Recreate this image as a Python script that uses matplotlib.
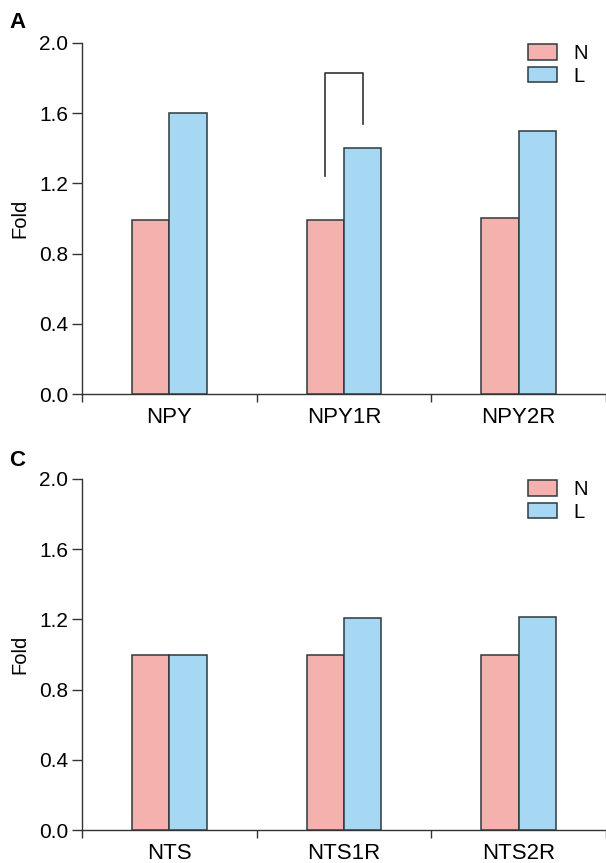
import matplotlib
matplotlib.use("Agg")
import matplotlib.pyplot as plt
import numpy as np
from matplotlib.patches import Patch

plt.rcParams['font.family'] = ['Liberation Sans', 'DejaVu Sans']

# Data
cats_a = ["NPY", "NPY1R", "NPY2R"]
n_a = [0.99, 0.99, 1.00]
l_a = [1.60, 1.40, 1.50]

cats_c = ["NTS", "NTS1R", "NTS2R"]
n_c = [1.00, 1.00, 1.00]
l_c = [1.00, 1.21, 1.215]

series_names = ["N", "L"]
colors = ["#F4B1AE", "#A6D7F3"]
yticks = [0.0, 0.4, 0.8, 1.2, 1.6, 2.0]

# bracket on NPY1R (data coords)
bracket_top = 1.83
bracket_left_bottom = 1.24
bracket_right_bottom = 1.54

fig = plt.figure(figsize=(6.06, 8.63), dpi=100)
left = 82 / 606
ax_a = fig.add_axes([left, 1 - 394 / 863, 1.0 - left, 351 / 863])
ax_c = fig.add_axes([left, 1 - 830 / 863, 1.0 - left, 351 / 863])

bw = 0.214
edge = "#2E3A3E"

def draw(ax, cats, n, l):
    x = np.arange(len(cats))
    ax.bar(x - bw / 2, n, bw, color=colors[0], edgecolor=edge, linewidth=1.1, zorder=3)
    ax.bar(x + bw / 2, l, bw, color=colors[1], edgecolor=edge, linewidth=1.1, zorder=3)
    ax.set_xlim(-0.5, 2.5)
    ax.set_ylim(0, 2.0)
    ax.set_yticks(yticks)
    ax.set_yticklabels([f"{v:.1f}" for v in yticks], fontsize=15)
    ax.set_xticks([-0.5, 0.5, 1.5, 2.5])
    ax.set_xticklabels([])
    ax.set_xticks(x, minor=True)
    ax.set_xticklabels(cats, minor=True, fontsize=16)
    ax.tick_params(axis='x', which='minor', length=0, pad=9)
    ax.tick_params(axis='x', which='major', length=6, width=1, color="#333333", direction='out')
    ax.tick_params(axis='y', length=7, width=1, color="#333333", direction='out', pad=3)
    for s in ["top", "right"]:
        ax.spines[s].set_visible(False)
    for s in ["left", "bottom"]:
        ax.spines[s].set_color("#333333")
        ax.spines[s].set_linewidth(1.0)
    ax.set_ylabel("Fold", fontsize=14.5)
    handles = [Patch(facecolor=colors[i], edgecolor=edge, linewidth=1.1, label=series_names[i]) for i in range(2)]
    ax.legend(handles=handles, loc='upper right', bbox_to_anchor=(0.966, 0.997), frameon=False,
              fontsize=14.5, handlelength=1.4, handleheight=0.8, labelspacing=0.18,
              handletextpad=0.85, borderaxespad=0.0, borderpad=0.0)
    ax.yaxis.set_label_coords(-0.10, 0.5)

draw(ax_a, cats_a, n_a, l_a)
draw(ax_c, cats_c, n_c, l_c)

# significance bracket
xl = 1 - bw / 2
xr = 1 + bw / 2
ax_a.plot([xl, xl, xr, xr], [bracket_left_bottom, bracket_top, bracket_top, bracket_right_bottom],
          color="#333333", linewidth=1.2, zorder=4, clip_on=False)

fig.text(9 / 606, 1 - 22 / 863, "A", fontsize=16, fontweight='bold', va='center', ha='left')
fig.text(9 / 606, 1 - 460 / 863, "C", fontsize=16, fontweight='bold', va='center', ha='left')

fig.savefig("out.png", dpi=100)
